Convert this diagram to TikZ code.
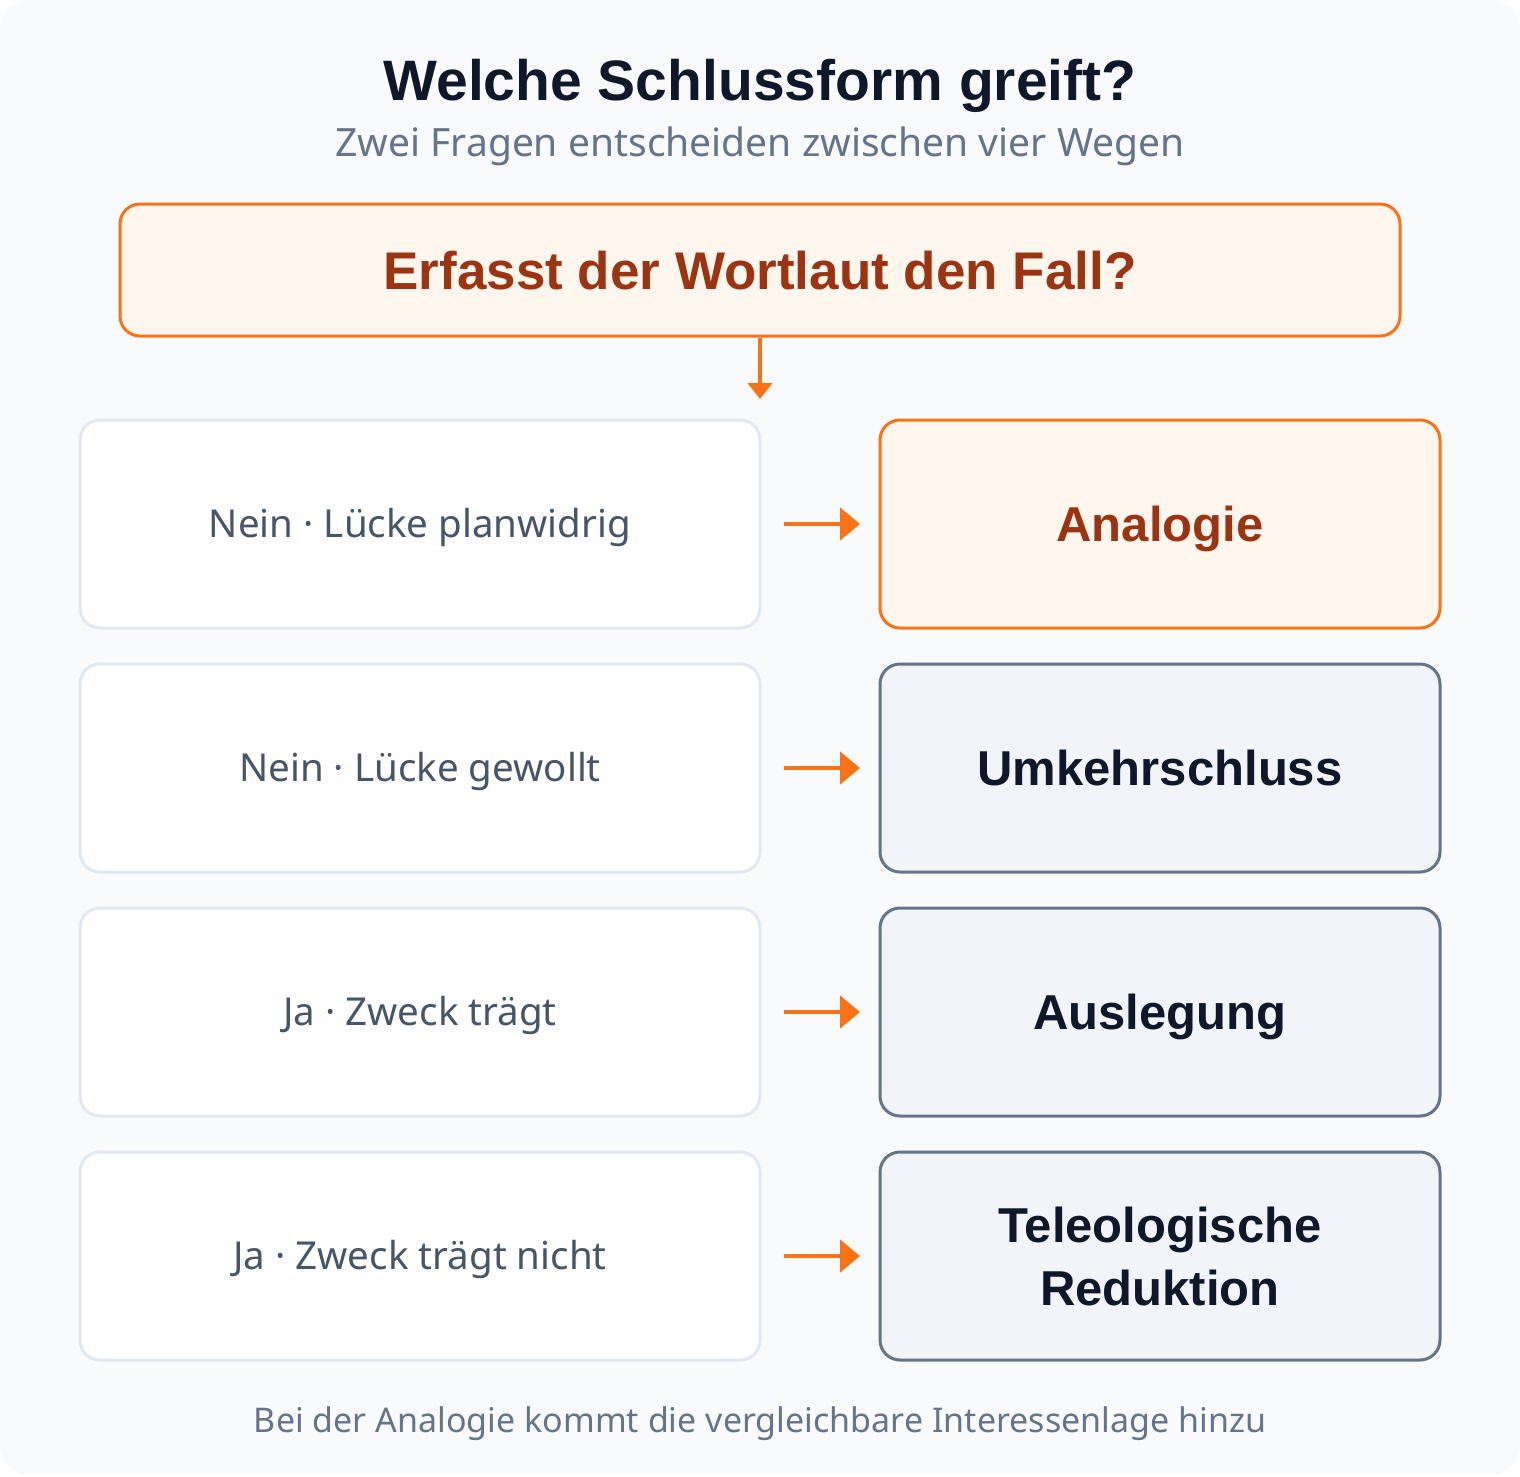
\documentclass[tikz,border=0pt]{standalone}
\usepackage{fontspec}
\setmainfont{Noto Sans}
\newfontfamily\bfamily{Liberation Sans}
\newcommand{\bfam}{\bfamily\bfseries}
\usetikzlibrary{arrows.meta}
\definecolor{bg}{HTML}{F8FAFC}
\definecolor{orng}{HTML}{F97316}
\definecolor{orngfill}{HTML}{FFF7ED}
\definecolor{orngtext}{HTML}{9A3412}
\definecolor{ink}{HTML}{0F172A}
\definecolor{slate}{HTML}{64748B}
\definecolor{slatedark}{HTML}{475569}
\definecolor{lightline}{HTML}{E2E8F0}
\definecolor{slatefill}{HTML}{F1F5F9}
\tikzset{
  qbox/.style={draw=orng, line width=3pt, fill=orngfill, rounded corners=20pt,
    minimum width=1280pt, minimum height=132pt, inner sep=0pt,
    font=\bfam\fontsize{53}{60}\selectfont, text=orngtext,
    text height=38pt, text depth=0pt},
  condbox/.style={draw=lightline, line width=3pt, fill=white, rounded corners=20pt,
    minimum width=680pt, minimum height=208pt, inner sep=0pt,
    font=\fontsize{38.5}{44}\selectfont, text=slatedark,
    text height=27.5pt, text depth=0pt},
  resbox/.style={draw=slate, line width=3pt, fill=slatefill, rounded corners=20pt,
    minimum width=560pt, minimum height=208pt, inner sep=0pt,
    font=\bfam\fontsize{49}{63}\selectfont, text=ink, align=center,
    text height=35pt, text depth=0pt},
  hotbox/.style={resbox, draw=orng, fill=orngfill, text=orngtext},
  flow/.style={draw=orng, line width=4.5pt},
  harrow/.style={flow, -{Triangle[length=20pt,width=32pt]}},
  varrow/.style={flow, -{Triangle[length=16pt,width=24pt]}},
}
\begin{document}
\begin{tikzpicture}[x=1pt,y=-1pt]
\useasboundingbox (0,0) rectangle (1520,1476);
\fill[white] (0,0) rectangle (1520,1476);
\fill[bg, rounded corners=30pt] (0,0) rectangle (1520,1475);

\node[anchor=base, font=\bfam\fontsize{57}{60}\selectfont, text=ink] (title) at (760,100) {Welche Schlussform greift?};
\node[anchor=base, font=\fontsize{39}{44}\selectfont, text=slate] (subtitle) at (760,156) {Zwei Fragen entscheiden zwischen vier Wegen};

\node[qbox] (q) at (760,270) {Erfasst der Wortlaut den Fall?};
\coordinate (qend) at (760,399);
\draw[varrow] (q.south) -- (qend);

\node[condbox] (c1) at (420,524) {Nein · Lücke planwidrig};
\node[condbox] (c2) at (420,768) {Nein · Lücke gewollt};
\node[condbox] (c3) at (420,1012) {Ja · Zweck trägt};
\node[condbox] (c4) at (420,1256) {Ja · Zweck trägt nicht};

\node[hotbox] (r1) at (1160,524) {Analogie};
\node[resbox] (r2) at (1160,768) {Umkehrschluss};
\node[resbox] (r3) at (1160,1012) {Auslegung};
\node[resbox, text height=98pt] (r4) at (1160,1256) {Teleologische\\Reduktion};

\draw[harrow] ([xshift=22.5pt]c1.east) -- ([xshift=-18.5pt]r1.west);
\draw[harrow] ([xshift=22.5pt]c2.east) -- ([xshift=-18.5pt]r2.west);
\draw[harrow] ([xshift=22.5pt]c3.east) -- ([xshift=-18.5pt]r3.west);
\draw[harrow] ([xshift=22.5pt]c4.east) -- ([xshift=-18.5pt]r4.west);

\node[anchor=base, font=\fontsize{34}{40}\selectfont, text=slate] (footer) at (760,1432) {Bei der Analogie kommt die vergleichbare Interessenlage hinzu};
\end{tikzpicture}
\end{document}
